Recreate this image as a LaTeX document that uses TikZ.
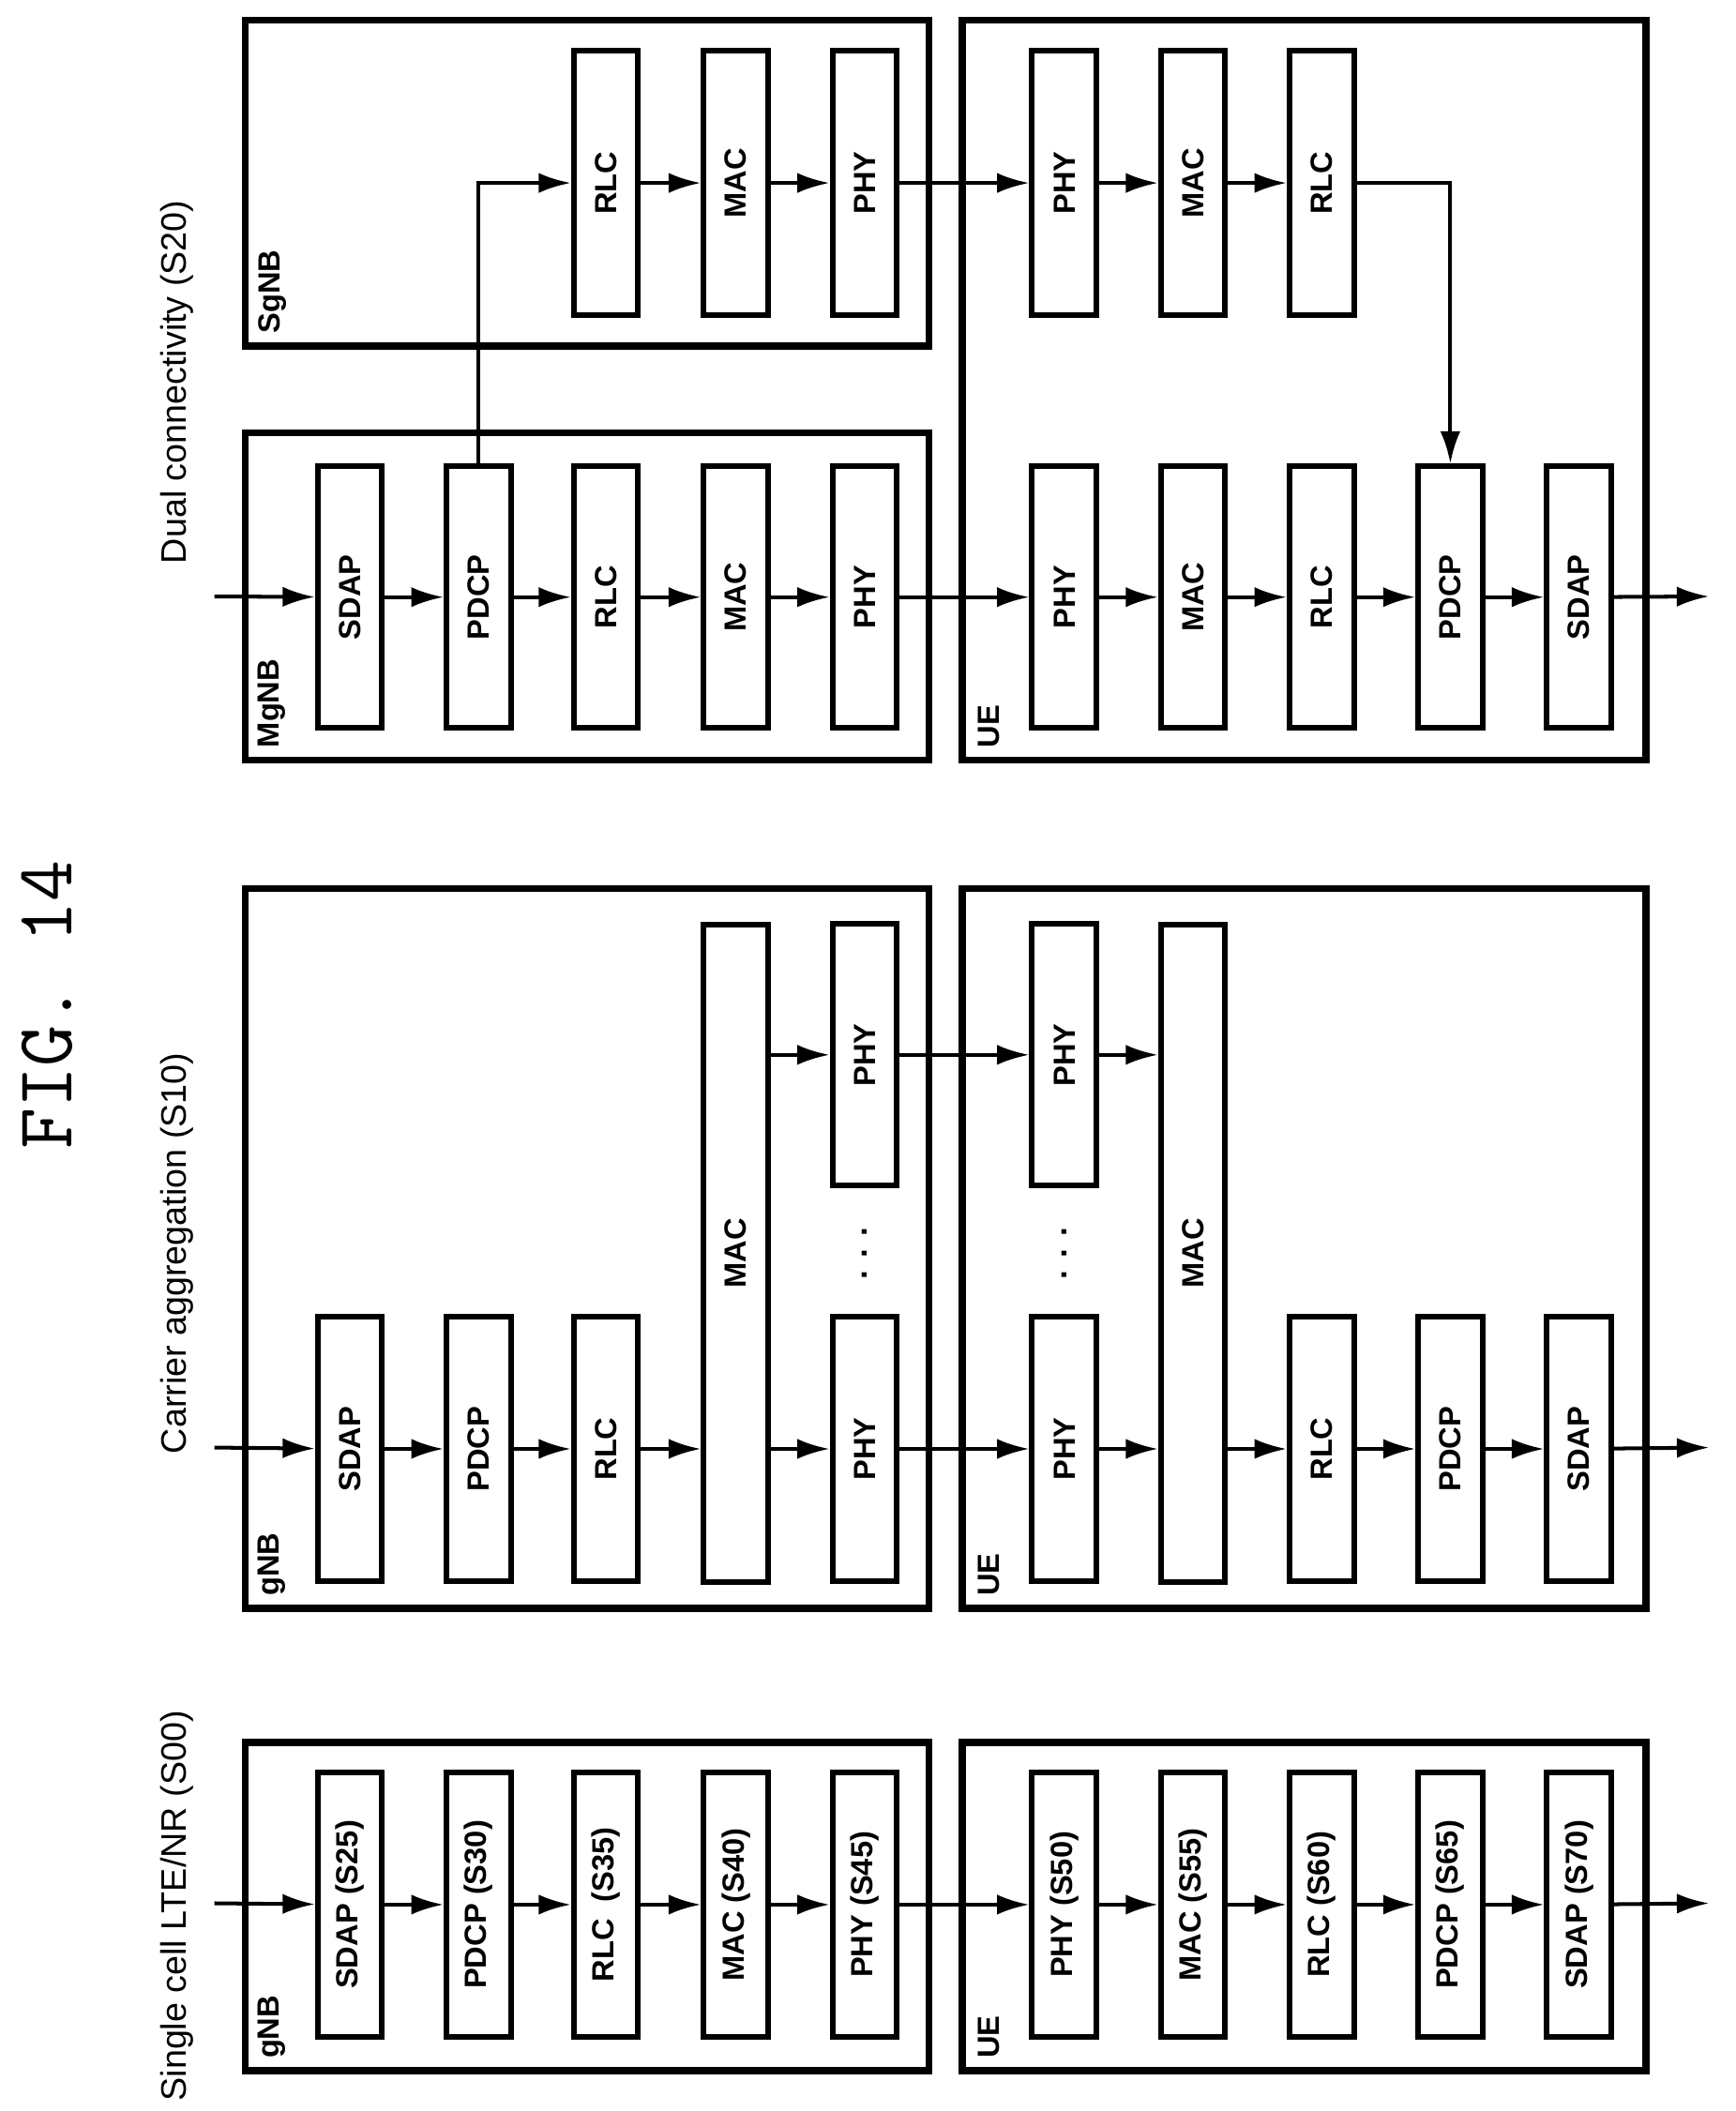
\documentclass[tikz,border=0pt]{standalone}
\usepackage{fontspec}
\setsansfont{Liberation Sans}
\usetikzlibrary{arrows.meta}
\begin{document}
\begin{tikzpicture}[x=0.01cm,y=-0.01cm,
	layer/.style={draw,line width=1.2pt,minimum height=4.8mm,rotate=90,inner sep=0pt,
		font=\sffamily\bfseries\fontsize{6.5}{8}\selectfont},
	panel/.style={draw,line width=1.5pt},
	tag/.style={rotate=90,anchor=west,inner sep=1pt,font=\sffamily\bfseries\fontsize{6.5}{8}\selectfont},
	title/.style={rotate=90,font=\sffamily\fontsize{7.5}{9}\selectfont},
	flow/.style={-{Latex[length=2.4mm,width=1.5mm]},line width=0.8pt}]
	\useasboundingbox (0,0) rectangle (1295,1575);
	\node[rotate=90,font=\ttfamily\fontsize{17}{20}\selectfont] (fig) at (35,750) {FIG. 14};

	% single cell
	\node[title] (t0) at (132,1422) {Single cell LTE/NR (S00)};
	\draw[panel] (183,1300) rectangle (693,1545);
	\draw[panel] (718,1300) rectangle (1228,1545);
	\node[tag] (g0) at (203,1540) {gNB};
	\node[tag] (u0) at (738,1540) {UE};
	\coordinate (in0) at (160,1420);
	\coordinate (out0) at (1275,1420);
	\foreach \n/\x/\t in {a/261/SDAP (S25),b/357/PDCP (S30),c/452/RLC\ \ (S35),d/549/MAC (S40),e/645/PHY (S45),
		f/794/PHY (S50),g/890/MAC (S55),h/986/RLC (S60),i/1082/PDCP (S65),j/1178/SDAP (S70)}
		\node[layer,minimum width=19.7mm] (s\n) at (\x,1421) {\t};
	\draw[flow] (in0) -- (sa);
	\foreach \p/\q in {a/b,b/c,c/d,d/e,e/f,f/g,g/h,h/i,i/j}
		\draw[flow] (s\p) -- (s\q);
	\draw[flow] (sj) -- (out0);

	% carrier aggregation
	\node[title] (t1) at (132,935) {Carrier aggregation (S10)};
	\draw[panel] (183,663) rectangle (693,1200);
	\draw[panel] (718,663) rectangle (1228,1200);
	\node[tag] (g1) at (203,1195) {gNB};
	\node[tag] (u1) at (738,1195) {UE};
	\coordinate (in1) at (160,1080);
	\coordinate (out1) at (1275,1080);
	\foreach \n/\x/\t in {a/261/SDAP,b/357/PDCP,c/452/RLC,e/645/PHY,f/794/PHY,h/986/RLC,i/1082/PDCP,j/1178/SDAP}
		\node[layer,minimum width=19.7mm] (c\n) at (\x,1081) {\t};
	\node[layer,minimum width=49mm] (cmac) at (549,935) {MAC};
	\node[layer,minimum width=49mm] (umac) at (890,935) {MAC};
	\node[layer,minimum width=19.5mm] (ce2) at (645,787) {PHY};
	\node[layer,minimum width=19.5mm] (cf2) at (794,787) {PHY};
	\node[rotate=90,font=\sffamily\bfseries\fontsize{7}{8}\selectfont] (dt1) at (645,935) {. . .};
	\node[rotate=90,font=\sffamily\bfseries\fontsize{7}{8}\selectfont] (dt2) at (794,935) {. . .};
	\draw[flow] (in1) -- (ca);
	\draw[flow] (ca) -- (cb);
	\draw[flow] (cb) -- (cc);
	\draw[flow] (cc) -- (cc -| cmac.north);
	\draw[flow] (ce -| cmac.south) -- (ce);
	\draw[flow] (ce2 -| cmac.south) -- (ce2);
	\draw[flow] (ce) -- (cf);
	\draw[flow] (ce2) -- (cf2);
	\draw[flow] (cf) -- (cf -| umac.north);
	\draw[flow] (cf2) -- (cf2 -| umac.north);
	\draw[flow] (ch -| umac.south) -- (ch);
	\draw[flow] (ch) -- (ci);
	\draw[flow] (ci) -- (cj);
	\draw[flow] (cj) -- (out1);

	% dual connectivity
	\node[title] (t2) at (132,285) {Dual connectivity (S20)};
	\draw[panel] (183,323) rectangle (693,567);
	\draw[panel] (183,15) rectangle (693,258);
	\draw[panel] (718,15) rectangle (1228,567);
	\node[tag] (g2) at (203,562) {MgNB};
	\node[tag] (g3) at (203,253) {SgNB};
	\node[tag] (u2) at (738,562) {UE};
	\coordinate (in2) at (160,445);
	\coordinate (out2) at (1275,445);
	\foreach \n/\x/\t in {a/261/SDAP,b/357/PDCP,c/452/RLC,d/549/MAC,e/645/PHY,
		f/794/PHY,g/890/MAC,h/986/RLC,i/1082/PDCP,j/1178/SDAP}
		\node[layer,minimum width=19.5mm] (d\n) at (\x,445.5) {\t};
	\foreach \n/\x/\t in {c/452/RLC,d/549/MAC,e/645/PHY,f/794/PHY,g/890/MAC,h/986/RLC}
		\node[layer,minimum width=19.7mm] (e\n) at (\x,136.5) {\t};
	\draw[flow] (in2) -- (da);
	\foreach \p/\q in {a/b,b/c,c/d,d/e,e/f,f/g,g/h,h/i,i/j}
		\draw[flow] (d\p) -- (d\q);
	\draw[flow] (dj) -- (out2);
	\foreach \p/\q in {c/d,d/e,e/f,f/g,g/h}
		\draw[flow] (e\p) -- (e\q);
	\draw[flow] (db.east) |- (ec);
	\draw[flow] (eh) -| (di.east);
\end{tikzpicture}
\end{document}
